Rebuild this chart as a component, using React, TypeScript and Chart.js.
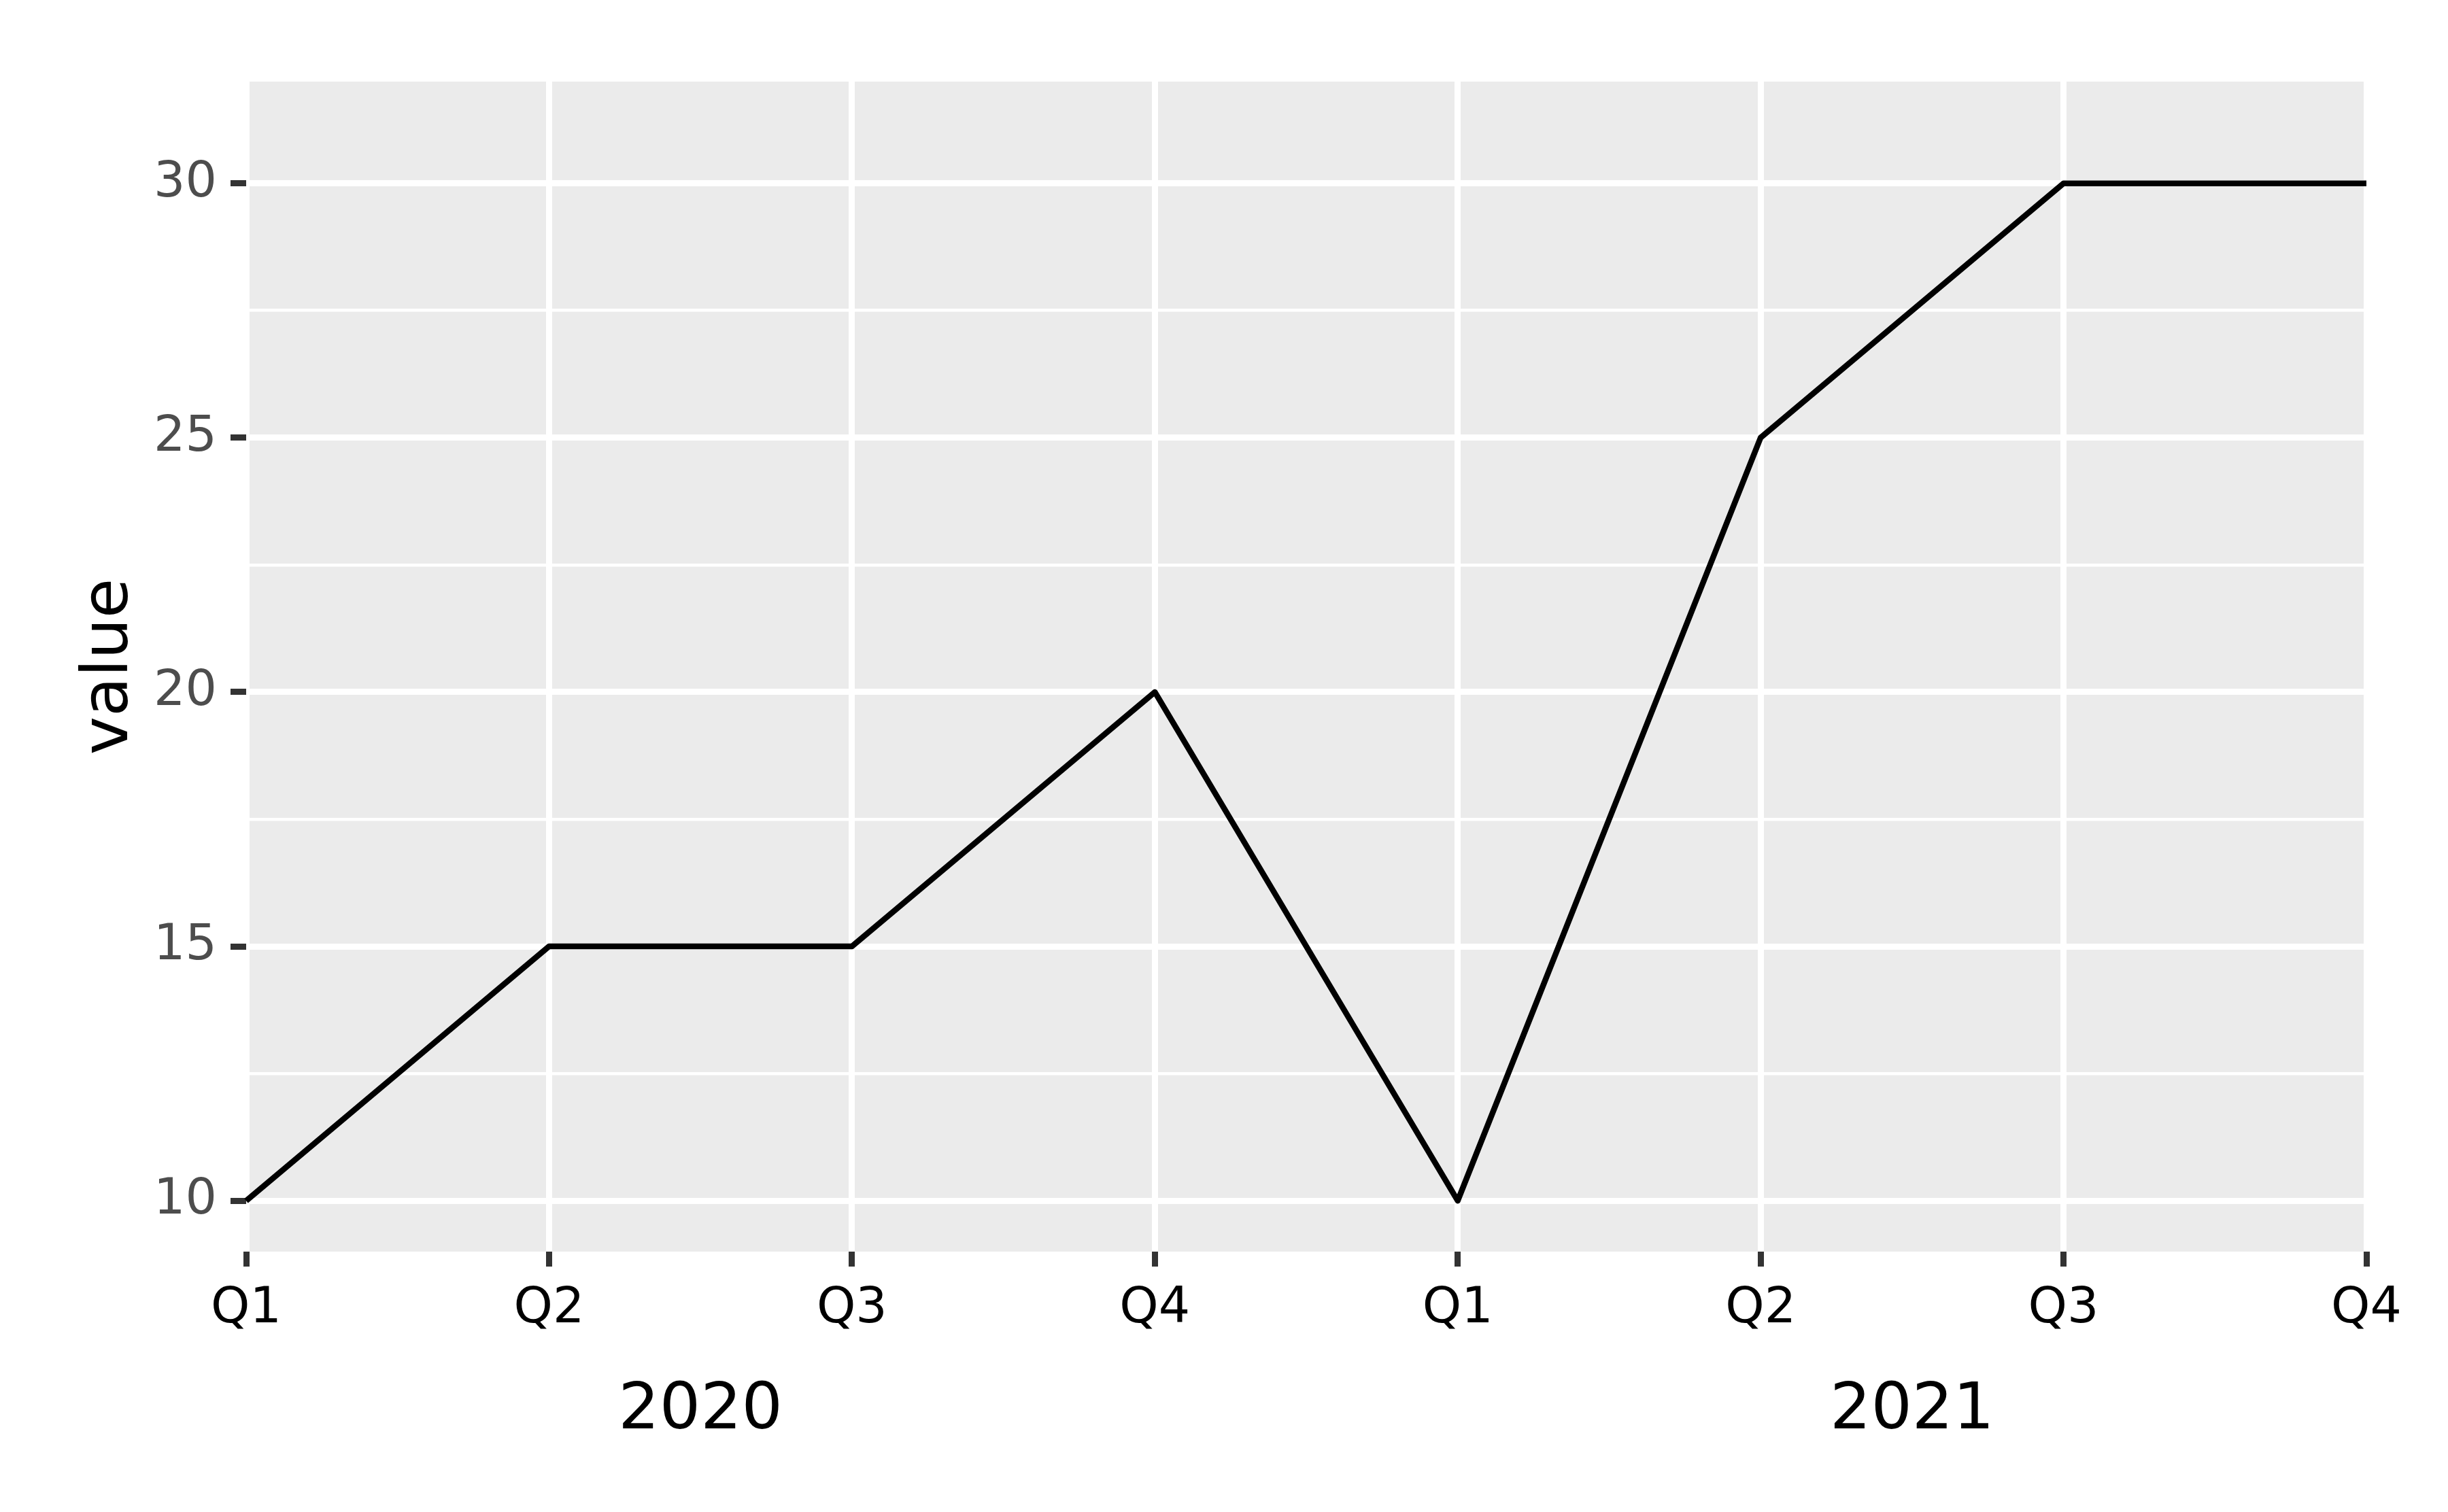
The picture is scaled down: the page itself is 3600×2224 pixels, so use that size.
import React, { useEffect, useRef } from "react";
import { Chart, registerables } from "chart.js";

Chart.register(...registerables);

const quarters = ["Q1", "Q2", "Q3", "Q4", "Q1", "Q2", "Q3", "Q4"];
const values = [10, 15, 15, 20, 10, 25, 30, 30];
const years = ["2020", "2021"];
const quartersPerYear = 4;
const yMajorTicks = [10, 15, 20, 25, 30];
const yMinorTicks = [12.5, 17.5, 22.5, 27.5];
const yMin = 9;
const yMax = 32;

const FONT = "'DejaVu Sans', sans-serif";

export default function App() {
  const ref = useRef<HTMLCanvasElement | null>(null);

  useEffect(() => {
    document.body.style.margin = "0";
    const canvas = ref.current;
    if (!canvas) return;

    const panelBg = {
      id: "panelBg",
      beforeDraw(chart: any) {
        const { ctx, chartArea } = chart;
        ctx.save();
        ctx.fillStyle = "#EBEBEB";
        ctx.fillRect(chartArea.left + 5, chartArea.top, chartArea.right - chartArea.left - 9, chartArea.bottom - chartArea.top);
        ctx.restore();
      },
    };

    const yearLabels = {
      id: "yearLabels",
      afterDraw(chart: any) {
        const { ctx } = chart;
        const xs = chart.scales.x;
        ctx.save();
        ctx.fillStyle = "#000000";
        ctx.font = `95px ${FONT}`;
        ctx.textAlign = "center";
        ctx.textBaseline = "middle";
        years.forEach((yr, i) => {
          const a = xs.getPixelForValue(i * quartersPerYear);
          const b = xs.getPixelForValue(i * quartersPerYear + quartersPerYear - 1);
          ctx.fillText(yr, (a + b) / 2, 2076);
        });
        ctx.restore();
      },
    };

    const allY = [...yMajorTicks, ...yMinorTicks].sort((a, b) => a - b);
    const isMajor = (v: number) => yMajorTicks.includes(v);

    const chart = new Chart(canvas, {
      type: "line",
      data: {
        labels: quarters,
        datasets: [
          {
            data: values,
            borderColor: "#000000",
            borderWidth: 8.5,
            pointRadius: 0,
            fill: false,
            tension: 0,
            borderJoinStyle: "round",
            borderCapStyle: "butt",
          },
        ],
      },
      options: {
        animation: false,
        responsive: false,
        devicePixelRatio: 1,
        layout: { padding: { left: 0, top: 120, right: 120, bottom: 0 } },
        plugins: { legend: { display: false }, tooltip: { enabled: false } },
        scales: {
          x: {
            type: "category",
            offset: false,
            border: { display: false },
            grid: {
              color: "#FFFFFF",
              lineWidth: 9,
              drawTicks: true,
              tickLength: 22,
              tickWidth: 9,
              tickColor: "#333333",
            },
            ticks: {
              color: "#000000",
              font: { family: FONT, size: 73 },
              padding: 19,
              maxRotation: 0,
              autoSkip: false,
            },
            afterFit(scale: any) {
              scale.height = 2224 - 1841;
            },
          },
          y: {
            type: "linear",
            min: yMin,
            max: yMax,
            border: { display: false },
            afterBuildTicks(scale: any) {
              scale.ticks = allY.map((v) => ({ value: v }));
            },
            grid: {
              color: "#FFFFFF",
              lineWidth: (c: any) => (c.tick && isMajor(c.tick.value) ? 9 : 4.5),
              drawTicks: true,
              tickLength: 23,
              tickWidth: 9,
              tickColor: (c: any) => (c.tick && isMajor(c.tick.value) ? "#333333" : "rgba(0,0,0,0)"),
            },
            ticks: {
              color: "#4D4D4D",
              font: { family: FONT, size: 73 },
              padding: 20,
              autoSkip: false,
              callback: (v: any) => (isMajor(Number(v)) ? String(v) : ""),
            },
            title: {
              display: true,
              text: "value",
              color: "#000000",
              font: { family: FONT, size: 95 },
              padding: { top: 105, bottom: 0 },
            },
            afterFit(scale: any) {
              scale.width = 362;
            },
          },
        },
      },
      plugins: [panelBg, yearLabels],
    } as any);

    return () => chart.destroy();
  }, []);

  return <canvas ref={ref} width={3600} height={2224} style={{ display: "block", width: 3600, height: 2224 }} />;
}
